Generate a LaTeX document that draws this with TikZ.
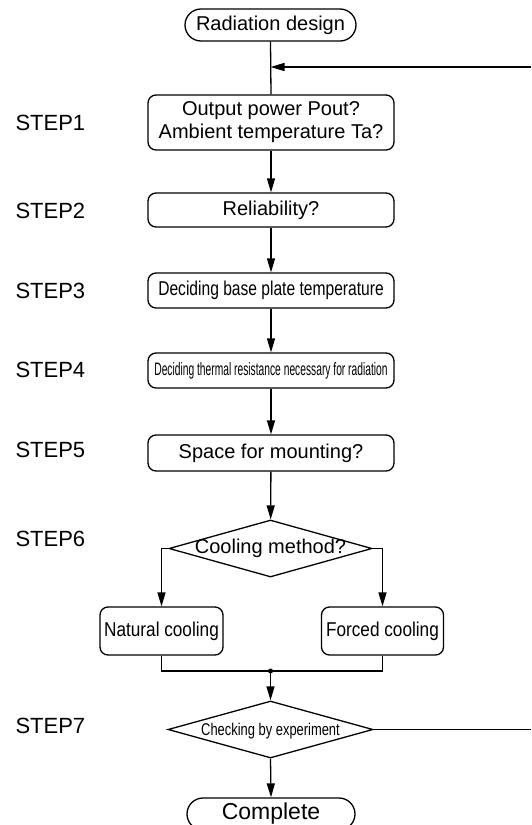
\documentclass[tikz,border=0pt]{standalone}
\usepackage{fontspec}
\setmainfont{Liberation Sans}
\usetikzlibrary{shapes.geometric,arrows.meta}
\tikzset{
  conn/.style={line width=1.3pt, draw=black},
  arr/.style={conn, -{Triangle[length=14pt,width=8pt]}},
  stadium/.style={draw, line width=1.3pt, rounded corners=16pt, inner sep=0pt, minimum height=32pt},
  stepbox/.style={draw, line width=1.3pt, rounded corners=8pt, inner sep=0pt, minimum width=246pt, align=center},
  dia/.style={draw, line width=1.3pt, diamond, inner sep=0pt},
  lbl/.style={font=\fontsize{20}{23}\selectfont},
  steplbl/.style={font=\fontsize{22}{25}\selectfont, anchor=west},
}
\begin{document}
\begin{tikzpicture}[x=1pt,y=-1pt]
\useasboundingbox (0,0) rectangle (531,825);
% nodes
\node[stadium, minimum width=171pt, lbl] (start) at (270.5,25) {Radiation design};
\node[stepbox, minimum height=55pt, lbl] (s1) at (271,122.5) {Output power Pout?\\Ambient temperature Ta?};
\node[stepbox, minimum height=34pt, lbl] (s2) at (271,210) {Reliability?};
\node[stepbox, minimum height=35pt, lbl] (s3) at (271,290.5) {\scalebox{0.78}[1]{Deciding base plate temperature}};
\node[stepbox, minimum height=35pt, font=\fontsize{18}{21}\selectfont] (s4) at (271,370.5) {\scalebox{0.57}[1]{Deciding thermal resistance necessary for radiation}};
\node[stepbox, minimum height=36pt, lbl] (s5) at (271,453) {Space for mounting?};
\node[dia, minimum width=203pt, minimum height=57pt] (d1) at (270.5,548.5) {};
\node[lbl] (d1t) at (270.5,548.5) {Cooling method?};
\node[stepbox, minimum width=123pt, minimum height=48pt, lbl] (nat) at (161.5,631) {\scalebox{0.86}[1]{Natural cooling}};
\node[stepbox, minimum width=122pt, minimum height=48pt, lbl] (frc) at (382.5,631) {\scalebox{0.86}[1]{Forced cooling}};
\coordinate (dot) at (270.5,671);
\node[dia, minimum width=205pt, minimum height=57pt] (d2) at (270.5,729.5) {};
\node[font=\fontsize{17}{20}\selectfont] (d2t) at (270.5,731) {\scalebox{0.76}[1]{Checking by experiment}};
\node[stadium, minimum width=168pt, lbl] (done) at (271,814) {\fontsize{23}{26}\selectfont Complete};
% step labels
\node[steplbl] (l1) at (12,122.5) {STEP1};
\node[steplbl] (l2) at (12,211) {STEP2};
\node[steplbl] (l3) at (12,290.5) {STEP3};
\node[steplbl] (l4) at (12,370) {STEP4};
\node[steplbl] (l5) at (12,450) {STEP5};
\node[steplbl] (l6) at (12,539) {STEP6};
\node[steplbl] (l7) at (12,725.5) {STEP7};
% connectors
\coordinate (fbtop) at (531,67);
\coordinate (fbbot) at (531,729.5);
\draw[conn] (start.south) -- (s1.north);
\draw[arr] (fbtop) -- (fbtop -| start.south);
\draw[arr] (s1) -- (s2);
\draw[arr] (s2) -- (s3);
\draw[arr] (s3) -- (s4);
\draw[arr] (s4) -- (s5);
\draw[arr] (s5) -- (d1);
\draw[arr] (d1.west) -| (nat.north);
\draw[arr] (d1.east) -| (frc.north);
\draw[conn] (nat.south) |- (dot) -| (frc.south);
\fill (dot) circle (2.5pt);
\draw[arr] (dot) -- (d2.north);
\draw[conn] (d2.east) -- (fbbot);
\draw[arr] (d2.south) -- (done.north);
\end{tikzpicture}
\end{document}
